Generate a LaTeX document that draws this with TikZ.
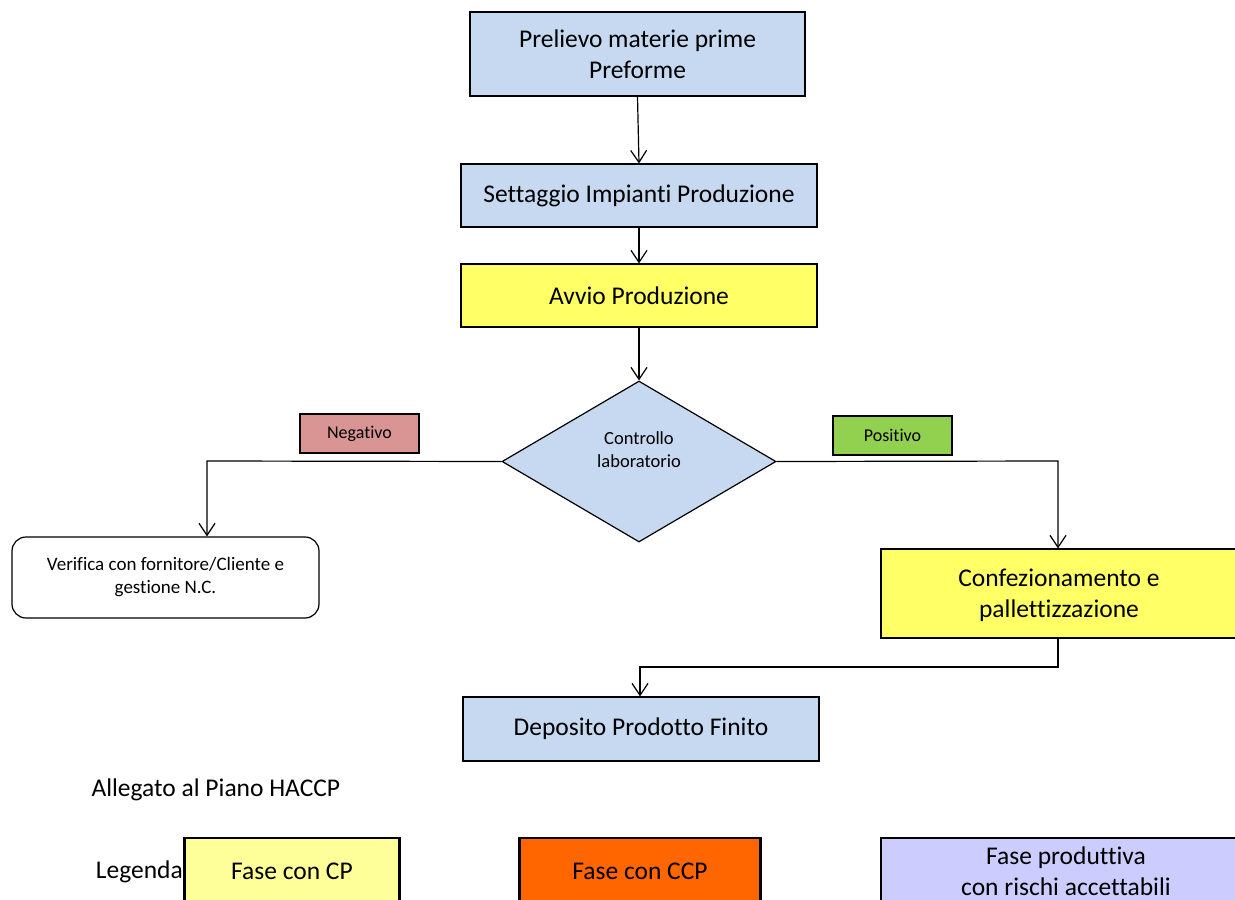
\documentclass[tikz,border=0pt]{standalone}
\usepackage{fontspec}
\setmainfont[RawFeature=-liga]{Carlito}
\usetikzlibrary{shapes.geometric,arrows.meta}
\definecolor{stepblue}{HTML}{C6D9F1}
\definecolor{ccpyellow}{HTML}{FFFF66}
\definecolor{negred}{HTML}{D99594}
\definecolor{posgreen}{HTML}{92D050}
\definecolor{legyellow}{HTML}{FFFF99}
\definecolor{legorange}{HTML}{FF6600}
\definecolor{leglilac}{HTML}{CCCCFF}
\tikzset{
  x=1pt, y=-1pt,
  stepbox/.style={draw, line width=1.2pt, inner sep=0pt, align=center,
    font=\fontsize{25.5}{31}\selectfont},
  tagbox/.style={draw, line width=1.2pt, inner sep=0pt, align=center,
    font=\fontsize{18}{21}\selectfont, minimum width=119pt, minimum height=39pt},
  legbox/.style={draw, line width=2.8pt, inner sep=0pt, align=center,
    font=\fontsize{25.5}{31}\selectfont},
  flow/.style={line width=1.2pt, -{Straight Barb[length=12pt,width=16pt,line width=1.2pt]}},
}
\begin{document}
\begin{tikzpicture}
\useasboundingbox (0,0) rectangle (1235,900);
\clip (0,0) rectangle (1235,900);

% process steps
\node[stepbox, fill=stepblue, minimum width=335pt, minimum height=84pt] (prel) at (637.5,54) {Prelievo materie prime\\Preforme};
\node[stepbox, fill=stepblue, minimum width=356pt, minimum height=63pt] (sett) at (639,195.5) {Settaggio Impianti Produzione};
\node[stepbox, fill=ccpyellow, minimum width=356pt, minimum height=63pt] (avvio) at (639,295.5) {Avvio Produzione};
\node[diamond, draw, line width=1.2pt, fill=stepblue, inner sep=0pt, aspect=1.7,
      minimum width=274pt, minimum height=161pt] (ctrl) at (639,461.5) {};
\node[align=center, inner sep=0pt, font=\fontsize{18.5}{23}\selectfont] (ctrltext) at (639,450) {Controllo\\laboratorio};

% outcome labels
\node[tagbox, fill=negred] (neg) at (359.5,433.5) {Negativo};
\node[tagbox, fill=posgreen] (pos) at (892.5,435.5) {Positivo};

% outcomes
\node[draw, line width=1.2pt, rounded corners=14pt, inner sep=0pt, align=center,
      minimum width=307pt, minimum height=81pt,
      font=\fontsize{19}{23}\selectfont] (ver) at (165.5,577.5) {Verifica con fornitore/Cliente e\\gestione N.C.};
\node[stepbox, fill=ccpyellow, minimum width=358pt, minimum height=89pt] (conf) at (1060,593.5) {};
\node[align=center, inner sep=0pt, font=\fontsize{25.5}{31}\selectfont] (conftext) at (1059,595.5) {Confezionamento e\\pallettizzazione};
\node[stepbox, fill=stepblue, minimum width=356pt, minimum height=64pt] (dep) at (641,729) {Deposito Prodotto Finito};

% connectors
\coordinate (negturn) at (207,461);
\coordinate (posturn) at (1058,461);
\coordinate (conftail) at (1058,667);
\coordinate (depturn) at (640,667);
\draw[flow] (prel.south) -- (sett.north);
\draw[flow] (sett.south) -- (avvio.north);
\draw[flow] (avvio.south) -- (ctrl.north);
\draw[flow] (ctrl.west) -- (negturn) -- (negturn |- ver.north);
\draw[flow] (ctrl.east) -- (posturn) -- (posturn |- conf.north);
\draw[flow] (conf.south -| conftail) -- (conftail) -- (depturn) -- (depturn |- dep.north);

% footer and legend
\node[font=\fontsize{25.5}{30}\selectfont, anchor=west] (alleg) at (88,790) {Allegato al Piano HACCP};
\node[font=\fontsize{25.5}{30}\selectfont, anchor=east, inner sep=1pt] (leg) at (184,872) {Legenda};
\node[legbox, fill=legyellow, minimum width=215pt, minimum height=67pt] (cp) at (292,871.5) {Fase con CP};
\node[legbox, fill=legorange, minimum width=241pt, minimum height=67pt] (ccp) at (640,871.5) {Fase con CCP};
\node[legbox, fill=leglilac, minimum width=370pt, minimum height=67pt] (acc) at (1066,871.5) {Fase produttiva\\con rischi accettabili};
\end{tikzpicture}
\end{document}
